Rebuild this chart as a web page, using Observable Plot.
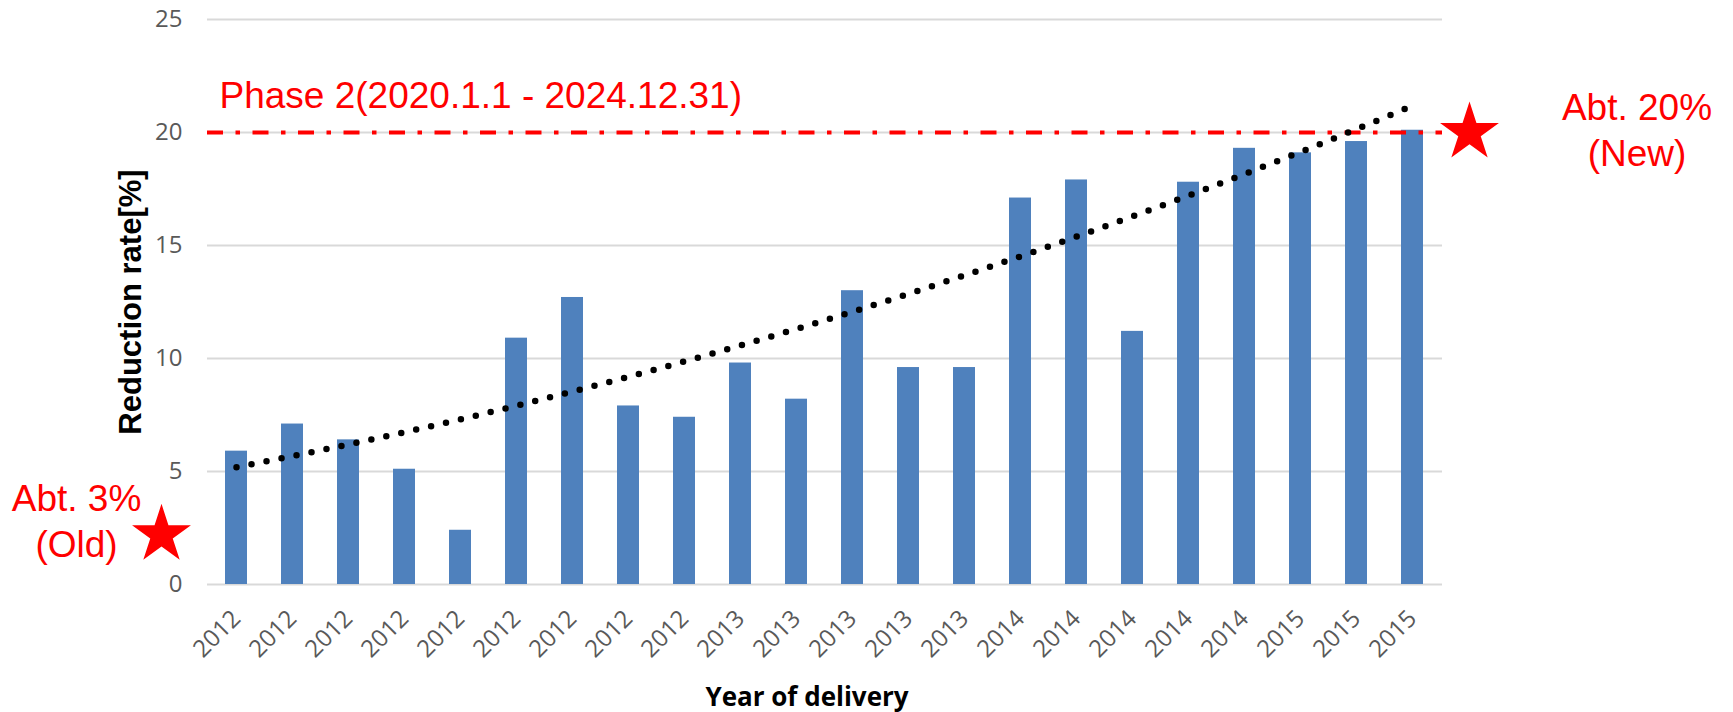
<!DOCTYPE html>
<html>
<head>
<meta charset="utf-8">
<script src="https://cdn.jsdelivr.net/npm/d3@7"></script>
<script src="https://cdn.jsdelivr.net/npm/@observablehq/plot@0.6"></script>
<style>
  html, body { margin: 0; padding: 0; background: #fff; }
  svg { display: block; }
</style>
</head>
<body>
<div id="chart"></div>
<script>
// ---- data ----
const years = ["2012","2012","2012","2012","2012","2012","2012","2012","2012",
               "2013","2013","2013","2013","2013",
               "2014","2014","2014","2014","2014",
               "2015","2015","2015"];
const reduction = [5.9, 7.1, 6.4, 5.1, 2.4, 10.9, 12.7, 7.9, 7.4, 9.8, 8.2,
                   13.0, 9.6, 9.6, 17.1, 17.9, 11.2, 17.8, 19.3, 19.1, 19.6, 20.1];
// dotted trendline at each bar position
const trendline = [5.19, 5.68, 6.20, 6.74, 7.31, 7.91, 8.54, 9.19, 9.87, 10.58, 11.31,
                   12.07, 12.86, 13.68, 14.52, 15.39, 16.29, 17.21, 18.16, 19.14, 20.15, 21.18];
const yTicks = [0, 5, 10, 15, 20, 25];
const phase2Limit = 20;
const phase2Label = "Phase 2(2020.1.1 - 2024.12.31)";
const oldLabel = "Abt. 3%\n(Old)";
const newLabel = "Abt. 20%\n(New)";
const oldStarLevel = 2.2;
const newStarLevel = 20;

const idx = d3.range(reduction.length);
const bars = idx.map(i => ({i, v: reduction[i]}));
const trend = idx.map(i => ({i, v: trendline[i]}));
const last = idx.length - 1;
const redFont = "'Liberation Sans', Arial, sans-serif";

const chart = Plot.plot({
  width: 1733,
  height: 712,
  marginLeft: 207,
  marginRight: 291,
  marginTop: 19,
  marginBottom: 128,
  style: {fontFamily: "'Open Sans', 'Noto Sans', sans-serif", background: "#fff", overflow: "visible"},
  x: {type: "band", domain: idx, paddingInner: 0.6, paddingOuter: 0.3},
  y: {domain: [0, 25]},
  marks: [
    Plot.gridY(yTicks, {stroke: "#d9d9d9", strokeOpacity: 1, strokeWidth: 2}),
    Plot.axisY(yTicks, {tickSize: 0, tickPadding: 25, fontSize: 24, color: "#595959", label: null}),
    Plot.axisX(idx, {tickSize: 0, tickPadding: 30, tickRotate: -45, tickFormat: i => years[i],
                     fontSize: 24, color: "#595959", label: null}),
    Plot.barY(bars, {x: "i", y: "v", fill: "#4f81bd"}),
    Plot.ruleY([phase2Limit], {stroke: "#ff0000", strokeWidth: 4, strokeDasharray: "16 12.5 4.5 12.5"}),
    Plot.line(trend, {x: "i", y: "v", stroke: "#000", strokeWidth: 6.5, strokeDasharray: "0 15.3",
                      strokeLinecap: "round", curve: "monotone-x"}),
    // annotations
    Plot.text([phase2Label], {x: () => 0, y: () => phase2Limit, dx: -17, dy: -25, textAnchor: "start",
                              lineAnchor: "bottom", fontSize: 37, fill: "#ff0000", fontFamily: redFont}),
    Plot.dot([{i: 0, v: oldStarLevel}], {x: "i", y: "v", dx: -75, symbol: "star", r: 18.5, fill: "#ff0000", stroke: null}),
    Plot.dot([{i: last, v: newStarLevel}], {x: "i", y: "v", dx: 57, symbol: "star", r: 18.5, fill: "#ff0000", stroke: null}),
    Plot.text([{i: 0, v: oldStarLevel, t: oldLabel}], {x: "i", y: "v", text: "t", dx: -160, dy: 22,
                              lineAnchor: "bottom", lineHeight: 1.25, fontSize: 37, fill: "#ff0000", fontFamily: redFont}),
    Plot.text([{i: last, v: newStarLevel, t: newLabel}], {x: "i", y: "v", text: "t", dx: 224.5, dy: 33,
                              lineAnchor: "bottom", lineHeight: 1.22, fontSize: 37, fill: "#ff0000", fontFamily: redFont}),
    // axis titles
    Plot.text(["Reduction rate[%]"], {frameAnchor: "left", textAnchor: "middle", lineAnchor: "middle",
                              rotate: -90, dx: -76, fontSize: 31, fontWeight: "bold", fill: "#000", fontFamily: redFont}),
    Plot.text(["Year of delivery"], {frameAnchor: "bottom", textAnchor: "middle", dx: -18, dy: 121, lineAnchor: "bottom",
                              fontSize: 26, fontWeight: "bold", fill: "#000"})
  ]
});
document.getElementById("chart").appendChild(chart);
</script>
</body>
</html>
